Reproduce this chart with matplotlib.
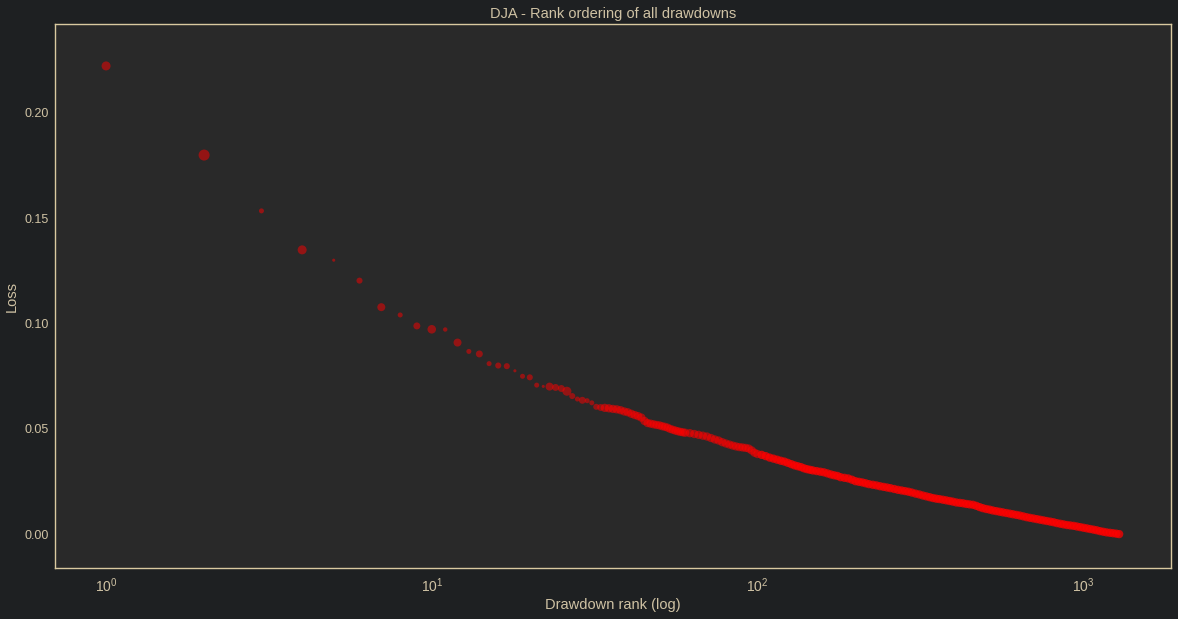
import matplotlib
matplotlib.use("Agg")
import matplotlib.pyplot as plt
import numpy as np

# ---- data ----
ranks_top = list(range(1, 34))
loss_top = [0.2222, 0.1799, 0.1534, 0.1349, 0.1300, 0.1203, 0.1077, 0.1040, 0.0988, 0.0972,
            0.0971, 0.0909, 0.0867, 0.0855, 0.0809, 0.0800, 0.0797, 0.0775, 0.0749, 0.0744,
            0.0707, 0.0701, 0.0700, 0.0696, 0.0691, 0.0678, 0.0655, 0.0641, 0.0635, 0.0633,
            0.0623, 0.0604, 0.0601]
size_top = [42, 63, 13, 42, 5, 19, 33, 13, 25, 38,
            10, 33, 13, 25, 13, 19, 19, 5, 13, 19,
            13, 5, 33, 25, 25, 42, 19, 13, 25, 13,
            13, 19, 25]

ranks_rest = [34, 35, 36, 37, 38, 39, 40, 41, 42, 43, 44, 45, 46, 47, 48, 49, 50, 51, 52, 53,
              54, 55, 56, 57, 58, 59, 60, 62, 64, 66, 68, 70, 72, 74, 76, 78, 80, 82, 84, 86,
              88, 90, 92, 94, 96, 98, 100, 103, 106, 109, 112, 115, 118, 121, 124, 127, 130,
              133, 136, 139, 142, 145, 148, 152, 156, 160, 164, 168, 172, 176, 180, 185, 190,
              195, 200, 205, 210, 215, 220, 226, 232, 238, 244, 250, 256, 263, 270, 277, 284,
              291, 298, 306, 314, 322, 330, 338, 346, 354, 362, 371, 380, 389, 398, 408, 418,
              428, 438, 448, 459, 470, 481, 492, 504, 516, 528, 541, 554, 567, 581, 595, 609,
              624, 639, 655, 671, 687, 704, 721, 738, 756, 774, 793, 812, 831, 851, 871, 892,
              913, 935, 957, 980, 1003, 1027, 1051, 1076, 1101, 1127, 1153, 1180, 1208, 1236,
              1264, 1290]
loss_rest = [0.0599, 0.0597, 0.0594, 0.0592, 0.0588, 0.0582, 0.0578, 0.0571, 0.0565, 0.0560,
             0.0553, 0.0537, 0.0527, 0.0524, 0.0521, 0.0518, 0.0516, 0.0512, 0.0509, 0.0505,
             0.0499, 0.0495, 0.0491, 0.0488, 0.0485, 0.0483, 0.0481, 0.0479, 0.0475, 0.0471,
             0.0467, 0.0463, 0.0456, 0.0449, 0.0444, 0.0436, 0.0430, 0.0425, 0.0420, 0.0416,
             0.0413, 0.0411, 0.0409, 0.0406, 0.0397, 0.0386, 0.0380, 0.0376, 0.0370, 0.0363,
             0.0358, 0.0353, 0.0348, 0.0344, 0.0338, 0.0332, 0.0326, 0.0322, 0.0318, 0.0312,
             0.0308, 0.0305, 0.0302, 0.0299, 0.0296, 0.0293, 0.0288, 0.0283, 0.0279, 0.0276,
             0.0270, 0.0267, 0.0264, 0.0258, 0.0251, 0.0248, 0.0245, 0.0241, 0.0237, 0.0234,
             0.0231, 0.0227, 0.0224, 0.0221, 0.0218, 0.0214, 0.0210, 0.0207, 0.0204, 0.0201,
             0.0197, 0.0192, 0.0188, 0.0183, 0.0179, 0.0175, 0.0171, 0.0168, 0.0166, 0.0163,
             0.0160, 0.0157, 0.0154, 0.0150, 0.0148, 0.0146, 0.0143, 0.0141, 0.0139, 0.0134,
             0.0128, 0.0123, 0.0119, 0.0116, 0.0112, 0.0109, 0.0106, 0.0103, 0.0100, 0.0097,
             0.0094, 0.0091, 0.0088, 0.0084, 0.0080, 0.0077, 0.0074, 0.0071, 0.0068, 0.0065,
             0.0062, 0.0059, 0.0056, 0.0052, 0.0049, 0.0046, 0.0043, 0.0041, 0.0039, 0.0036,
             0.0033, 0.0030, 0.0027, 0.0024, 0.0021, 0.0018, 0.0014, 0.0011, 0.0008, 0.0006,
             0.0004, 0.0002, 0.0000]

title = "DJA - Rank ordering of all drawdowns"
xlabel = "Drawdown rank (log)"
ylabel = "Loss"

# ---- style ----
fig_bg = "#1e2022"
ax_bg = "#292929"
txt = "#cfc2a4"
spine_c = "#d9c9a0"
plt.rcParams["font.family"] = ["Liberation Sans", "DejaVu Sans"]

fig = plt.figure(figsize=(11.78, 6.19), dpi=100, facecolor=fig_bg)
ax = fig.add_axes([0.0467, 0.0824, 0.9474, 0.8788])
ax.set_facecolor(ax_bg)

ax.scatter(ranks_top, loss_top, s=size_top, color="red", alpha=0.5, linewidths=0)
rest_alpha = np.where(np.asarray(ranks_rest) <= 100, 0.55, 0.75)
ax.scatter(ranks_rest, loss_rest, s=36, color="red", alpha=rest_alpha, linewidths=0)

ax.set_xscale("log")
ax.set_xlim(0.697, 1862)
ax.set_ylim(-0.0161, 0.2421)
ax.set_yticks([0.0, 0.05, 0.10, 0.15, 0.20])
ax.yaxis.set_major_formatter(matplotlib.ticker.FormatStrFormatter("%.2f"))
ax.xaxis.set_minor_locator(matplotlib.ticker.NullLocator())

for sp in ax.spines.values():
    sp.set_color(spine_c)
    sp.set_linewidth(1.0)

ax.tick_params(axis="both", which="both", length=0, colors=txt, labelsize=9)
ax.tick_params(axis="x", pad=6, labelsize=10)
ax.tick_params(axis="y", pad=4.5)

ax.set_title(title, color=txt, fontsize=10.5, pad=4)
ax.set_xlabel(xlabel, color=txt, fontsize=10.5, labelpad=2)
ax.set_ylabel(ylabel, color=txt, fontsize=10.5, labelpad=4)

fig.savefig("out.png", dpi=100, facecolor=fig_bg)
